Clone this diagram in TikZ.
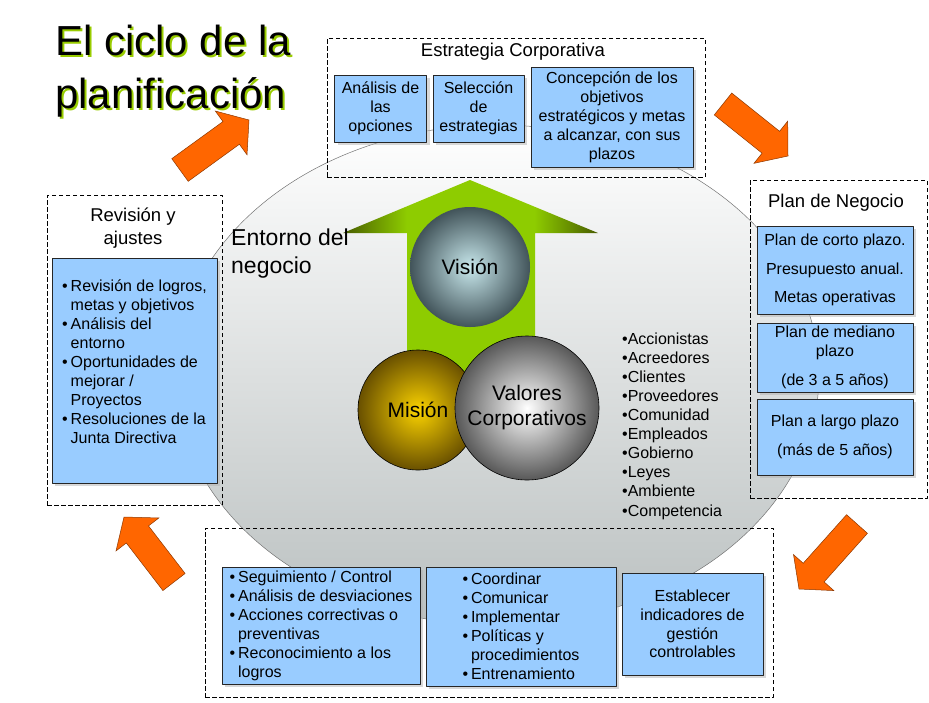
\documentclass[tikz,border=0pt]{standalone}
\usepackage{fontspec}
\setmainfont{Liberation Sans}
\usetikzlibrary{calc,shadows}

\definecolor{boxblue}{RGB}{153,204,255}
\definecolor{arroworange}{RGB}{255,102,0}
\definecolor{arrowedge}{RGB}{140,55,0}
\definecolor{titlegreen}{RGB}{153,204,0}
\definecolor{greenbright}{RGB}{142,204,0}
\definecolor{greendark}{RGB}{72,92,0}
\definecolor{visin}{RGB}{200,232,236}
\definecolor{visout}{RGB}{66,84,90}
\definecolor{misin}{RGB}{250,210,0}
\definecolor{misout}{RGB}{105,80,0}
\definecolor{valout}{RGB}{88,88,88}
\definecolor{ellbot}{RGB}{186,192,192}

\pgfdeclarehorizontalshading{greenarrow}{100bp}{color(0bp)=(greendark); color(25bp)=(greendark); color(37.5bp)=(greenbright); color(62.5bp)=(greenbright); color(75bp)=(greendark); color(100bp)=(greendark)}

\newcommand{\bul}{\makebox[8.5pt][l]{\textbullet}}
\newcommand{\bulgap}{\hspace*{8.5pt}}
% flecha gruesa naranja: cola, punta
\newcommand{\fatarrow}[2]{%
  \coordinate (#1b) at ($(#2)!22pt!(#1)$);
  \draw[orangearr] ($(#1)!14pt!90:(#2)$) -- ($(#1b)!14pt!90:(#2)$) -- ($(#1b)!27pt!90:(#2)$)
    -- (#2) -- ($(#1b)!27pt!-90:(#2)$) -- ($(#1b)!14pt!-90:(#2)$) -- ($(#1)!14pt!-90:(#2)$) -- cycle;}

\begin{document}
\begin{tikzpicture}[x=1pt,y=-1pt,line join=round]
\tikzset{
  bluebox/.style={draw=black!85, fill=boxblue, line width=0.6pt, inner sep=0pt, align=center,
    drop shadow={shadow xshift=3pt, shadow yshift=-3pt, fill=black!30},
    font=\fontsize{16}{19}\selectfont},
  dashbox/.style={draw, line width=0.6pt, dash pattern=on 4.5pt off 2.5pt, inner sep=0pt},
  titletext/.style={font=\fontsize{18.5}{23}\selectfont, align=center, inner sep=0pt},
  orangearr/.style={draw=arrowedge, fill=arroworange, line width=0.5pt, line join=miter},
  ball/.style={circle, inner sep=0pt, align=center, font=\fontsize{21}{25}\selectfont}
}
\useasboundingbox (0,0) rectangle (929,702);

% entorno del negocio
\shade[top color=white, bottom color=ellbot, draw=black!55, line width=0.5pt]
  (497,375) ellipse [x radius=322, y radius=250];

% titulo
\node[anchor=north west, inner sep=0pt, align=left, font=\fontsize{42}{53}\selectfont, text=titlegreen]
  (titleshadow) at (57,27) {El ciclo de la\\planificación};
\node[anchor=north west, inner sep=0pt, align=left, font=\fontsize{42}{53}\selectfont]
  (title) at (55,25) {El ciclo de la\\planificación};

% estrategia corporativa
\node[dashbox, minimum width=378pt, minimum height=139pt] (estrat) at (516,107.5) {};
\node[titletext] (estratT) at (513,52) {Estrategia Corporativa};
\node[bluebox, minimum width=92pt, minimum height=67pt] (analisis) at (380.5,108.5) {Análisis de\\las\\opciones};
\node[bluebox, minimum width=91pt, minimum height=67pt] (seleccion) at (478.5,108.5) {Selección\\de\\estrategias};
\node[bluebox, minimum width=162pt, minimum height=100pt] (concepcion) at (612,117)
  {Concepción de los\\objetivos\\estratégicos y metas\\a alcanzar, con sus\\plazos};

% plan de negocio
\node[dashbox, minimum width=177pt, minimum height=318pt] (plan) at (838.5,339) {};
\node[titletext] (planT) at (836,203) {Plan de Negocio};
\node[bluebox, minimum width=156pt, minimum height=88pt, font=\fontsize{16}{28.5}\selectfont] (corto) at (835,270)
  {Plan de corto plazo.\\Presupuesto anual.\\Metas operativas};
\node[bluebox, minimum width=156pt, minimum height=69pt] (mediano) at (835,357.5)
  {Plan de mediano\\plazo\\[10pt](de 3 a 5 años)};
\node[bluebox, minimum width=156pt, minimum height=76pt, font=\fontsize{16}{29}\selectfont] (largo) at (835,437)
  {Plan a largo plazo\\(más de 5 años)};

% revision y ajustes
\node[dashbox, minimum width=175pt, minimum height=310pt] (revision) at (134.5,350) {};
\node[titletext] (revisionT) at (133,228.5) {Revisión y\\ajustes};
\node[bluebox, align=left, minimum width=165pt, minimum height=225pt, text depth=17pt] (logros) at (134.5,370.5)
  {\bul Revisión de logros,\\\bulgap metas y objetivos\\\bul Análisis del\\\bulgap entorno\\
   \bul Oportunidades de\\\bulgap mejorar /\\\bulgap Proyectos\\\bul Resoluciones de la\\\bulgap Junta Directiva};

% ejecucion y control
\node[dashbox, minimum width=568pt, minimum height=169pt] (ejecucion) at (489,612.5) {};
\node[bluebox, align=left, minimum width=198pt, minimum height=117pt] (seguimiento) at (321,625.5)
  {\bul Seguimiento / Control\\\bul Análisis de desviaciones\\\bul Acciones correctivas o\\\bulgap preventivas\\
   \bul Reconocimiento a los\\\bulgap logros};
\node[bluebox, align=left, minimum width=190pt, minimum height=119pt] (coordinar) at (521,626.5)
  {\bul Coordinar\\\bul Comunicar\\\bul Implementar\\\bul Políticas y\\\bulgap procedimientos\\\bul Entrenamiento};
\node[bluebox, minimum width=141pt, minimum height=102pt, font=\fontsize{16}{18.7}\selectfont] (indicadores) at (692.5,624)
  {Establecer\\indicadores de\\gestión\\controlables};

% flecha verde y esferas
\shade[shading=greenarrow] (343,233) -- (470,180) -- (598,233) -- (535,233) -- (535,385)
  -- (407,385) -- (407,233) -- cycle;
\node[ball, minimum size=120pt, shade, inner color=visin, outer color=visout] (vision) at (470,267) {Visión};
\node[ball, minimum size=120pt, shade, inner color=misin, outer color=misout, draw=black, line width=0.6pt]
  (mision) at (418,410) {Misión};
\node[ball, minimum size=144pt, shade, inner color=white, outer color=valout, draw=black, line width=0.6pt]
  (valores) at (527,408) {Valores\\Corporativos};

\node[anchor=west, align=left, inner sep=0pt, font=\fontsize{23}{28}\selectfont] (entorno) at (231,254)
  {Entorno del\\negocio};
\node[anchor=west, align=left, inner sep=0pt, font=\fontsize{16}{19.1}\selectfont] (grupos) at (622,426)
  {\textbullet Accionistas\\\textbullet Acreedores\\\textbullet Clientes\\\textbullet Proveedores\\\textbullet Comunidad\\
   \textbullet Empleados\\\textbullet Gobierno\\\textbullet Leyes\\\textbullet Ambiente\\\textbullet Competencia};

% flechas del ciclo
\coordinate (tl) at (180,170); \coordinate (tlh) at (249,120);
\coordinate (tr) at (723,104); \coordinate (trh) at (788,156);
\coordinate (br) at (857,524); \coordinate (brh) at (799,589);
\coordinate (bl) at (174,582); \coordinate (blh) at (124,517);
\fatarrow{tl}{tlh}
\fatarrow{tr}{trh}
\fatarrow{br}{brh}
\fatarrow{bl}{blh}
\end{tikzpicture}
\end{document}
